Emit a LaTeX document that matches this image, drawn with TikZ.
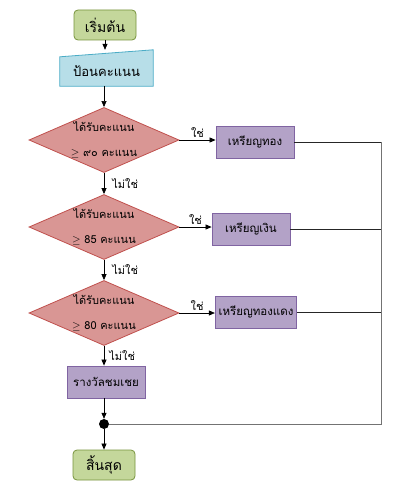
\documentclass[tikz,border=0pt]{standalone}
\usepackage{fontspec}
\newfontfamily\thaifont[Script=Thai]{Loma}
\usetikzlibrary{shapes.geometric,arrows.meta}

\definecolor{termfill}{HTML}{C4D79B}
\definecolor{termline}{HTML}{77933C}
\definecolor{infill}{HTML}{B7DEE8}
\definecolor{inline}{HTML}{4BACC6}
\definecolor{decfill}{HTML}{D99694}
\definecolor{decline}{HTML}{C0504D}
\definecolor{prizefill}{HTML}{B3A2C7}
\definecolor{prizeline}{HTML}{8064A2}

\tikzset{
  termbox/.style={draw=termline,fill=termfill,line width=.8pt,rounded corners=4pt,
    minimum width=62pt,minimum height=30pt,font=\thaifont\fontsize{14}{16}\selectfont},
  inbox/.style={minimum width=93pt,minimum height=36pt,inner sep=0pt},
  decbox/.style={diamond,draw=decline,fill=decfill,line width=.8pt,aspect=2.3,inner sep=0pt,
    minimum width=150pt,minimum height=65pt,align=center,font=\thaifont\fontsize{11}{13}\selectfont},
  prizebox/.style={draw=prizeline,fill=prizefill,line width=.8pt,
    minimum width=78pt,minimum height=32pt,font=\thaifont\fontsize{11.5}{13}\selectfont},
  joindot/.style={circle,fill=black,minimum size=10pt,inner sep=0pt},
  flow/.style={-{Triangle[length=6pt,width=5pt]},line width=.7pt},
  ret/.style={line width=.7pt,black!85},
  rail/.style={line width=1pt,black!55},
  lbl/.style={font=\thaifont\fontsize{11}{13}\selectfont,inner sep=2pt}
}

\begin{document}
\begin{tikzpicture}[x=1pt,y=-1pt]
\useasboundingbox (0,0) rectangle (393,487);
% column of steps
\node[termbox] (start) at (105,25) {เริ่มต้น};
\node[inbox] (inp) at (106.5,68) {};
\filldraw[draw=inline,fill=infill,line width=.8pt] (inp.south west) -- (inp.south east)
  -- (inp.north east) -- ([yshift=-7pt]inp.north west) -- cycle;
\node[font=\thaifont\fontsize{13}{15}\selectfont] (inptext) at (106.5,71) {ป้อนคะแนน};
\node[decbox] (d1) at (104,140) {ได้รับคะแนน\\[12pt]$\geq$ ๙๐ คะแนน};
\node[decbox] (d2) at (104,227) {ได้รับคะแนน\\[12pt]$\geq$ 85 คะแนน};
\node[decbox] (d3) at (104,313) {ได้รับคะแนน\\[12pt]$\geq$ 80 คะแนน};
\node[prizebox] (p1) at (255,142) {เหรียญทอง};
\node[prizebox] (p2) at (251,229) {เหรียญเงิน};
\node[prizebox] (p3) at (256,312) {เหรียญทองแดง};
\node[prizebox] (cons) at (106,382) {รางวัลชมเชย};
\node[joindot] (join) at (104,424) {};
\node[termbox] (stop) at (104,465) {สิ้นสุด};
\coordinate (railtop) at (381,141);
% connectors
\draw[flow] (start) -- (start |- inp.north);
\draw[flow] (inp.south -| d1) -- (d1.north);
\draw[flow] (d1.east) -- (d1.east -| p1.west) node[lbl,midway,above] {ใช่};
\draw[flow] (d2.east) -- (d2.east -| p2.west) node[lbl,midway,above] {ใช่};
\draw[flow] (d3.east) -- (d3.east -| p3.west) node[lbl,midway,above] {ใช่};
\draw[flow] (d1.south) -- (d2.north) node[lbl,midway,right,xshift=6pt] {ไม่ใช่};
\draw[flow] (d2.south) -- (d3.north) node[lbl,midway,right,xshift=6pt] {ไม่ใช่};
\draw[flow] (d3.south) -- (d3.south |- cons.north) node[lbl,midway,right,xshift=3pt] {ไม่ใช่};
\draw[flow] (cons.south -| join) -- (join);
\draw[flow] (join) -- (stop);
\draw[ret] (p1.east) -- (p1.east -| railtop);
\draw[ret] (p2.east) -- (p2.east -| railtop);
\draw[ret] (p3.east) -- (p3.east -| railtop);
\draw[rail] (p1.east -| railtop) -- (join -| railtop) -- (join);
\end{tikzpicture}
\end{document}
